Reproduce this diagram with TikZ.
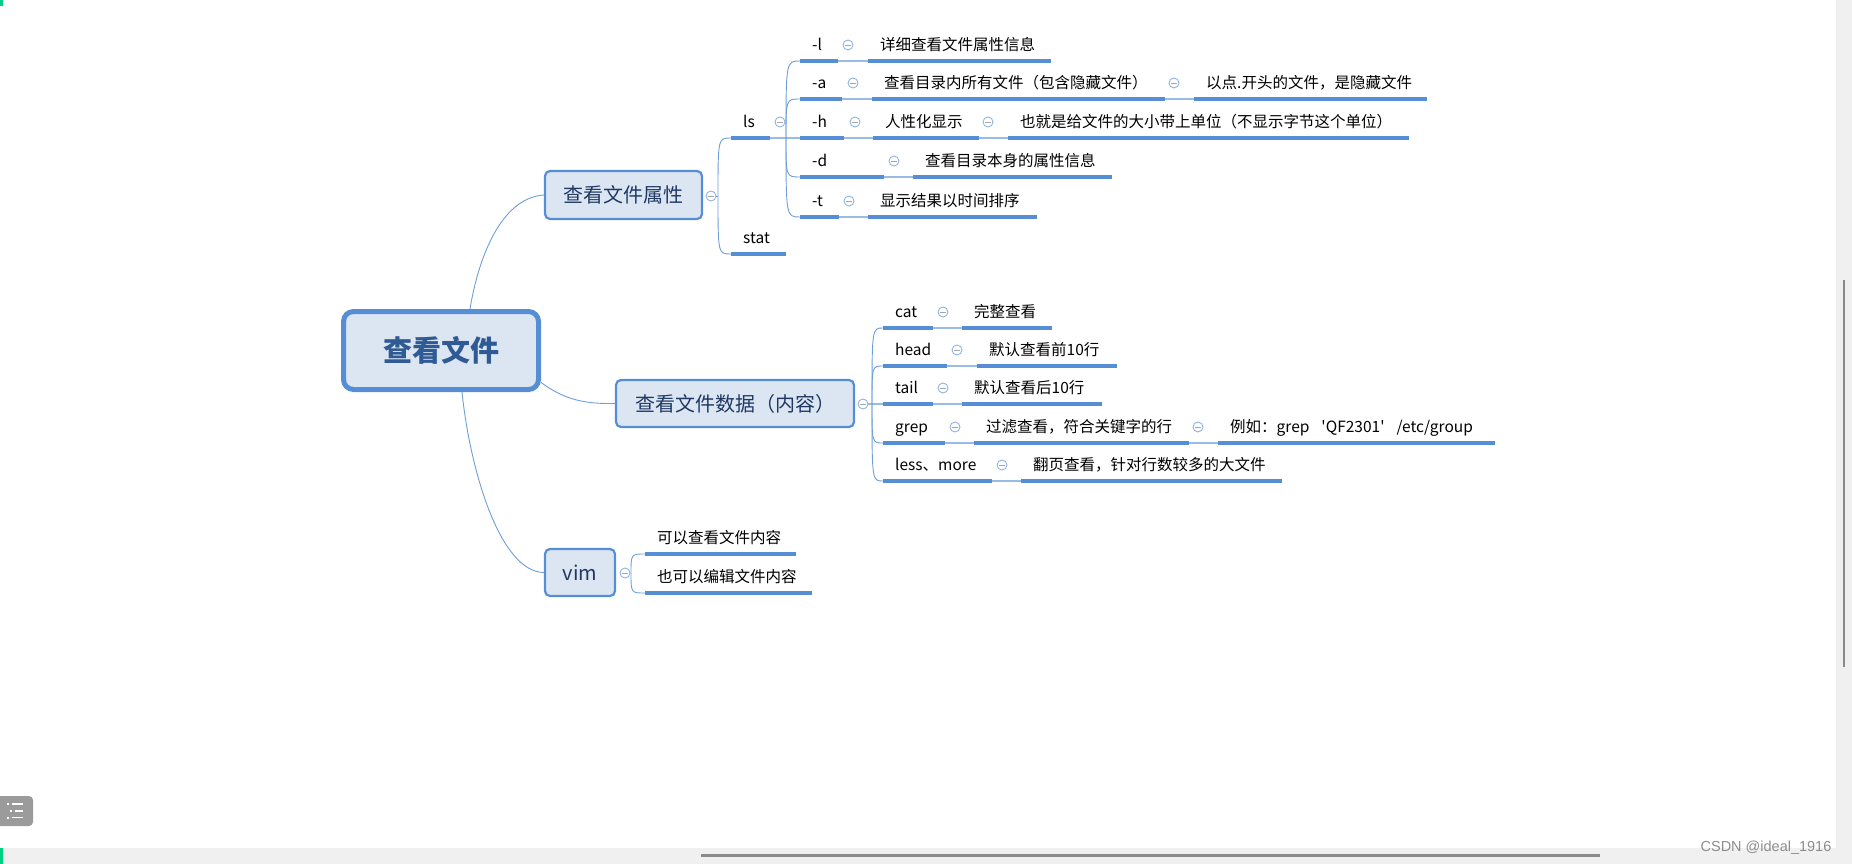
\documentclass[tikz,border=0pt]{standalone}
\usepackage{fontspec}
\newfontfamily\cjk{Noto Sans CJK SC}
\newfontfamily\wmfont{Liberation Sans}
\definecolor{ul}{HTML}{558ED5}
\definecolor{cv}{HTML}{6D9EDA}
\definecolor{thinc}{HTML}{9ABBE5}
\definecolor{boxfill}{HTML}{DCE6F2}
\definecolor{circc}{HTML}{8EB4E3}
\definecolor{topictext}{HTML}{1F3864}
\definecolor{roottext}{HTML}{2F5A94}
\definecolor{uigray}{HTML}{F0F0F0}
\definecolor{bargray}{HTML}{8A8A8A}
\definecolor{icongray}{HTML}{9B9B9B}
\definecolor{uigreen}{HTML}{00D084}
\definecolor{wmgray}{HTML}{8C8C8C}
\tikzset{
  ulin/.style={ul, line width=3.2pt},
  conn/.style={cv, line width=0.9pt},
  thinln/.style={thinc, line width=1.3pt},
  lbl/.style={font=\cjk\fontsize{15.5}{18}\selectfont, inner sep=0pt, anchor=west,
    text height=13.6pt, text depth=1.9pt},
  collapse/.style={circle, draw=circc, line width=0.9pt, fill=white, minimum size=10pt,
    inner sep=0pt, path picture={\draw[black!35, line width=0.8pt]
      ([xshift=-2.6pt]path picture bounding box.center) --
      ([xshift=2.6pt]path picture bounding box.center);}},
  topic/.style={draw=ul, line width=2.2pt, fill=boxfill, rounded corners=5pt,
    font=\cjk\fontsize{20}{24}\selectfont, text=topictext, inner sep=0pt,
    text height=17.6pt, text depth=2.4pt},
  rootbox/.style={draw=ul, line width=5pt, fill=boxfill, rounded corners=10pt,
    font=\cjk\bfseries\fontsize{29}{34}\selectfont, text=roottext, inner sep=0pt}
}
\newcommand\mmleaf[5]{%
  \coordinate (#1-s) at (#2,#4);
  \coordinate (#1-e) at (#3,#4);
  \draw[ulin] (#1-s) -- (#1-e);
  \node[lbl] (#1) at ([xshift=12pt,yshift=16pt]#1-s) {#5};
}
\begin{document}
\begin{tikzpicture}[x=1pt,y=-1pt]
\useasboundingbox (0,0) rectangle (1852,864);
% UI chrome
\fill[uigray] (1836,0) rectangle (1852,864);
\fill[uigray] (0,848) rectangle (1852,864);
\draw[bargray, line width=2.5pt] (1844,280) -- (1844,667);
\draw[bargray, line width=2.5pt] (701,855.5) -- (1600,855.5);
\fill[uigreen] (0,848) rectangle (3,864);
\fill[uigreen] (0,0) rectangle (3,6);
\fill[icongray, rounded corners=4pt] (-6,796) rectangle (33,826);
\foreach \yy/\xd in {804/7.5,811/10.5,817.5/7.5}{
  \fill[white] (\xd-1,\yy-1) rectangle (\xd+1,\yy+1);
  \draw[white, line width=1.6pt] (\xd+4,\yy) -- (23,\yy);
}
\node[font=\wmfont\fontsize{14.5}{16}\selectfont, text=wmgray, inner sep=0pt] (wm) at (1766,848) {CSDN @ideal\_1916};

% topics
\node[rootbox, minimum width=195pt, minimum height=78pt] (root) at (441,350.5) {查看文件};
\node[topic, minimum width=157pt, minimum height=48pt] (attr) at (623.5,195) {查看文件属性};
\node[topic, minimum width=238pt, minimum height=47pt] (data) at (735,403.5) {查看文件数据（内容）};
\node[topic, minimum width=70pt, minimum height=47pt] (vim) at (580,572.5) {vim};

% root connectors
\draw[conn] ([xshift=29pt]root.north) .. controls (478,260) and (500,198) .. (attr.west);
\draw[conn] ([yshift=-32pt]root.east) .. controls (565,400) and (585,404) .. (data.west);
\draw[conn] ([xshift=21pt]root.south) .. controls (470,470) and (500,572) .. (vim.west);

% attribute branch
\mmleaf{ls}{731}{770}{138}{ls}
\mmleaf{stat}{731}{786}{254}{stat}
\mmleaf{ol}{800}{838}{61}{-l}
\mmleaf{ol1}{868}{1051}{61}{详细查看文件属性信息}
\mmleaf{oa}{800}{842}{99}{-a}
\mmleaf{oa1}{872}{1165}{99}{查看目录内所有文件（包含隐藏文件）}
\mmleaf{oa2}{1194}{1427}{99}{以点.开头的文件，是隐藏文件}
\mmleaf{oh}{800}{844}{138}{-h}
\mmleaf{oh1}{873}{979}{138}{人性化显示}
\mmleaf{oh2}{1008}{1409}{138}{也就是给文件的大小带上单位（不显示字节这个单位）}
\mmleaf{od}{800}{884}{177}{-d}
\mmleaf{od1}{913}{1112}{177}{查看目录本身的属性信息}
\mmleaf{ot}{800}{839}{217}{-t}
\mmleaf{ot1}{868}{1037}{217}{显示结果以时间排序}

\node[collapse] (c-attr) at (711,196) {};
\coordinate (attrb) at (718,196);
\draw[conn] (c-attr.east) -- (attrb);
\draw[conn] (attrb) .. controls (attrb|-ls-s) and (attrb|-ls-s) .. (ls-s);
\draw[conn] (attrb) .. controls (attrb|-stat-s) and (attrb|-stat-s) .. (stat-s);

\node[collapse] (c-ls) at (780,122) {};
\coordinate (lsb) at (786,138);
\draw[thinln] (ls-e) -- (lsb) -- (oh-s);
\foreach \t in {ol,oa,od,ot}{
  \draw[conn] (lsb) .. controls (lsb|-\t-s) and (lsb|-\t-s) .. (\t-s);
}
\node[collapse] (c-ol) at (848,45) {};
\node[collapse] (c-oa) at (853,83) {};
\node[collapse] (c-oa1) at (1174,83) {};
\node[collapse] (c-oh) at (855,122) {};
\node[collapse] (c-oh1) at (988,122) {};
\node[collapse] (c-od) at (894,161) {};
\node[collapse] (c-ot) at (849,201) {};
\draw[thinln] (ol-e) -- (ol1-s);
\draw[thinln] (oa-e) -- (oa1-s);
\draw[thinln] (oa1-e) -- (oa2-s);
\draw[thinln] (oh-e) -- (oh1-s);
\draw[thinln] (oh1-e) -- (oh2-s);
\draw[thinln] (od-e) -- (od1-s);
\draw[thinln] (ot-e) -- (ot1-s);

% data branch
\mmleaf{cat}{883}{933}{328}{cat}
\mmleaf{cat1}{962}{1052}{328}{完整查看}
\mmleaf{head}{883}{947}{366}{head}
\mmleaf{head1}{977}{1117}{366}{默认查看前10行}
\mmleaf{tail}{883}{933}{404}{tail}
\mmleaf{tail1}{962}{1102}{404}{默认查看后10行}
\mmleaf{grep}{883}{945}{443}{grep}
\mmleaf{grep1}{974}{1189}{443}{过滤查看，符合关键字的行}
\mmleaf{grep2}{1218}{1495}{443}{例如：grep\hspace{12pt}'QF2301'\hspace{12pt}/etc/group}
\mmleaf{less}{883}{992}{481}{less、more}
\mmleaf{less1}{1021}{1282}{481}{翻页查看，针对行数较多的大文件}

\node[collapse] (c-data) at (863,404) {};
\coordinate (datab) at (872,404);
\draw[thinln] (c-data.east) -- (tail-s);
\foreach \t in {cat,head,grep,less}{
  \draw[conn] (datab) .. controls (datab|-\t-s) and (datab|-\t-s) .. (\t-s);
}
\node[collapse] (c-cat) at (943,312) {};
\node[collapse] (c-head) at (957,350) {};
\node[collapse] (c-tail) at (943,388) {};
\node[collapse] (c-grep) at (955,427) {};
\node[collapse] (c-grep1) at (1198,427) {};
\node[collapse] (c-less) at (1002,465) {};
\draw[thinln] (cat-e) -- (cat1-s);
\draw[thinln] (head-e) -- (head1-s);
\draw[thinln] (tail-e) -- (tail1-s);
\draw[thinln] (grep-e) -- (grep1-s);
\draw[thinln] (grep1-e) -- (grep2-s);
\draw[thinln] (less-e) -- (less1-s);

% vim branch
\mmleaf{vim1}{645}{796}{554}{可以查看文件内容}
\mmleaf{vim2}{645}{812}{593}{也可以编辑文件内容}
\node[collapse] (c-vim) at (625,573) {};
\coordinate (vimb) at (631,573);
\draw[conn] (vimb) .. controls (vimb|-vim1-s) and (vimb|-vim1-s) .. (vim1-s);
\draw[conn] (vimb) .. controls (vimb|-vim2-s) and (vimb|-vim2-s) .. (vim2-s);
\end{tikzpicture}
\end{document}
